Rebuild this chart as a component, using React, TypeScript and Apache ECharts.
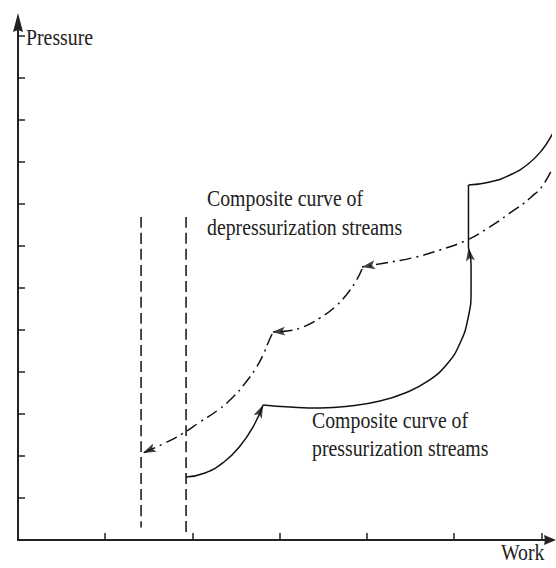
import React, { useEffect, useRef } from "react";
import * as echarts from "echarts";

// ---- data (work units on x, pressure units on y) ----
const X_TICKS = [1, 2, 3, 4, 5, 6];
const Y_TICKS = [1, 2, 3, 4, 5, 6, 7, 8, 9, 10, 11, 12];

// Composite curve of pressurization streams (solid), in pieces
const PRESS_A: number[][] = [
  [1.927, 1.5], [2.144, 1.595], [2.362, 1.857], [2.546, 2.238], [2.695, 2.69], [2.81, 3.214],
];
const PRESS_B: number[][] = [
  [2.81, 3.214], [3.119, 3.167], [3.463, 3.143], [3.807, 3.19], [4.151, 3.31], [4.438, 3.5],
  [4.702, 3.786], [4.92, 4.19], [5.069, 4.69], [5.161, 5.286], [5.195, 5.952], [5.195, 6.548],
  [5.165, 6.952],
];
const PRESS_C: number[][] = [[5.165, 6.952], [5.165, 8.452]];
const PRESS_D: number[][] = [
  [5.165, 8.452], [5.413, 8.524], [5.642, 8.69], [5.849, 8.952], [6.009, 9.286],
  [6.135, 9.69], [6.216, 10.0],
];

// Composite curve of depressurization streams (dash-dot), in pieces
const DEP_1: number[][] = [
  [6.216, 9.286], [6.044, 8.524], [5.872, 8.143], [5.642, 7.786], [5.39, 7.429],
  [5.149, 7.143], [4.839, 6.905], [4.518, 6.714], [4.209, 6.595], [3.945, 6.5],
];
const DEP_2: number[][] = [
  [3.945, 6.452], [3.876, 6.167], [3.773, 5.857], [3.635, 5.548], [3.463, 5.286],
  [3.268, 5.071], [3.085, 4.976], [2.913, 4.952],
];
const DEP_3: number[][] = [
  [2.913, 4.905], [2.867, 4.69], [2.81, 4.405], [2.729, 4.095], [2.615, 3.762],
  [2.466, 3.405], [2.294, 3.095], [2.087, 2.81], [1.881, 2.524], [1.663, 2.286], [1.433, 2.071],
];

// Vertical dashed limits
const LIMIT_LEFT: number[][] = [[1.411, 7.69], [1.411, 0.3]];
const LIMIT_RIGHT: number[][] = [[1.927, 7.69], [1.927, 0.1]];

// Arrow heads: [point before tip, tip]
const ARROWS: number[][][] = [
  [[4.209, 6.595], [3.945, 6.5]],
  [[3.085, 4.976], [2.913, 4.952]],
  [[1.663, 2.286], [1.433, 2.071]],
  [[2.695, 2.69], [2.81, 3.214]],
  [[5.195, 6.548], [5.165, 6.952]],
];

const INK = "#111";
const AXIS = "#222";
const FONT = '"Liberation Serif", "Times New Roman", serif';
const ARROW_W = 9;
const ARROW_L = 13;
const ARROW_PATH = "path://M5,0L10,14L5,11L0,14Z";

function lineSeries(id: string, data: number[][], type: any) {
  return {
    id,
    type: "line",
    data,
    smooth: 0.5,
    showSymbol: false,
    symbol: "none",
    clip: false,
    silent: true,
    lineStyle: { color: INK, width: 1.5, type },
  };
}

function textEl(text: string, x: number, y: number) {
  return {
    type: "text",
    x,
    y,
    scaleY: 1.15,
    silent: true,
    style: {
      text,
      fontSize: 19.8,
      fontFamily: FONT,
      fill: "#222",
      verticalAlign: "middle",
      textVerticalAlign: "middle",
      align: "left",
    },
  };
}

export default function App() {
  const ref = useRef<HTMLDivElement>(null);

  useEffect(() => {
    if (!ref.current) return;
    const chart = echarts.init(ref.current, null, { renderer: "svg" });
    const dashDot = [12, 5, 2, 5];
    const dashed = [11, 5];

    chart.setOption({
      animation: false,
      backgroundColor: "#fff",
      grid: { left: 18, right: 6, top: 22.5, bottom: 28 },
      xAxis: {
        type: "value",
        min: 0,
        max: 6.1,
        interval: 1,
        splitLine: { show: false },
        axisLabel: { show: false },
        axisTick: {
          show: true,
          inside: true,
          length: 7,
          customValues: X_TICKS,
          lineStyle: { color: AXIS, width: 1.5 },
        },
        axisLine: {
          show: true,
          onZero: false,
          symbol: ["none", "path://M5,0L10,12L5,11L0,12Z"],
          symbolSize: [14, 12],
          lineStyle: { color: AXIS, width: 2 },
        },
      },
      yAxis: {
        type: "value",
        min: 0,
        max: 12.32,
        interval: 1,
        splitLine: { show: false },
        axisLabel: { show: false },
        axisTick: {
          show: true,
          inside: true,
          length: 7,
          customValues: Y_TICKS,
          lineStyle: { color: AXIS, width: 1.5 },
        },
        axisLine: {
          show: true,
          onZero: false,
          symbol: ["none", "path://M5,0L10,19L5,17L0,19Z"],
          symbolSize: [15, 19],
          lineStyle: { color: AXIS, width: 2 },
        },
      },
      graphic: [
        textEl("Pressure", 26, 37.5),
        textEl("Work", 501, 553),
        textEl("Composite curve of", 207, 198.5),
        textEl("depressurization streams", 207, 227.5),
        textEl("Composite curve of", 312, 420.5),
        textEl("pressurization streams", 312, 448.5),
      ],
      series: [
        lineSeries("limL", LIMIT_LEFT, dashed),
        lineSeries("limR", LIMIT_RIGHT, dashed),
        lineSeries("pA", PRESS_A, "solid"),
        lineSeries("pB", PRESS_B, "solid"),
        lineSeries("pC", PRESS_C, "solid"),
        lineSeries("pD", PRESS_D, "solid"),
        lineSeries("d1", DEP_1, dashDot),
        lineSeries("d2", DEP_2, dashDot),
        lineSeries("d3", DEP_3, dashDot),
        {
          id: "arrows",
          type: "scatter",
          data: [],
          clip: false,
          silent: true,
          symbol: ARROW_PATH,
          symbolSize: [ARROW_W, ARROW_L],
          itemStyle: { color: INK },
          z: 5,
        },
      ],
    });

    const arrowData = ARROWS.map(([from, tip]) => {
      const p0 = chart.convertToPixel({ gridIndex: 0 }, from) as number[];
      const p1 = chart.convertToPixel({ gridIndex: 0 }, tip) as number[];
      const dx = p1[0] - p0[0];
      const dy = p1[1] - p0[1];
      const len = Math.hypot(dx, dy) || 1;
      const ux = dx / len;
      const uy = dy / len;
      const center = [p1[0] - (ux * ARROW_L) / 2, p1[1] - (uy * ARROW_L) / 2];
      const angle = (Math.atan2(-dy, dx) * 180) / Math.PI;
      const value = chart.convertFromPixel({ gridIndex: 0 }, center) as number[];
      return { value, symbolRotate: angle - 90 };
    });

    chart.setOption({ series: [{ id: "arrows", data: arrowData }] });

    return () => chart.dispose();
  }, []);

  return (
    <div
      ref={ref}
      style={{ position: "fixed", left: 0, top: 0, width: 556, height: 568, background: "#fff" }}
    />
  );
}
